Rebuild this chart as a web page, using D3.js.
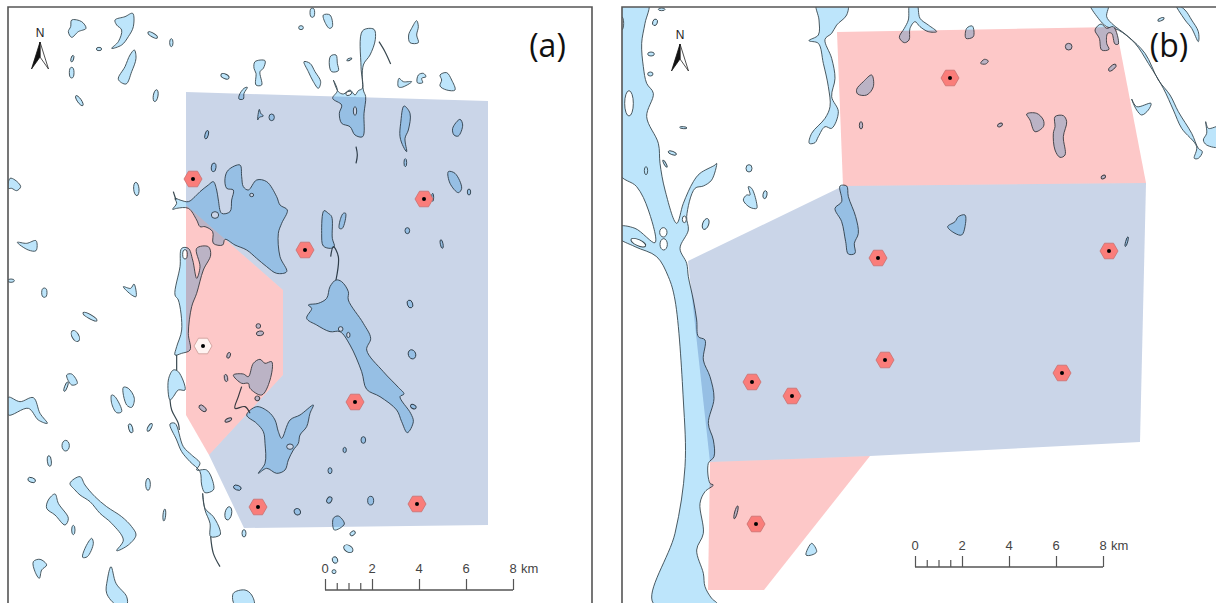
<!DOCTYPE html>
<html>
<head>
<meta charset="utf-8">
<script src="https://cdn.jsdelivr.net/npm/d3@7"></script>
<style>
  html, body { margin: 0; background: #fff; }
  svg { display: block; }
</style>
</head>
<body>
<script>
// All outlines were read off 3x crops, so each group has its own origin (see sheets below)
// lakes: flat x,y lists. blobs: cx, cy, rx, ry, angle. lines: flat x,y lists, not closed.

// panel a, top left crop
const lakesA1 = [
  [215,60,245,65,258,85,235,95,215,112,205,95,212,80],
  [345,60,375,50,398,40,400,80,385,110,365,135,335,145,355,125,365,90,350,75],
  [403,150,408,175,395,215,378,252,355,238,375,200,390,165],
  [765,185,795,182,790,205,780,215,785,255,768,255,768,220,762,205],
  [718,285,732,265,742,262,732,280,730,297,717,297],
  [773,360,778,328,782,340,790,348,778,352],
  [30,535,45,540,62,560,50,572,35,565,25,565],
  [52,727,80,730,108,722,108,752,85,750],
  [370,860,392,865,402,852,408,890,395,885],
  // big lake
  [565,605,585,590,600,575,625,555,640,545,650,570,655,600,665,640,690,635,695,600,700,570,680,565,675,535,685,510,720,495,725,530,730,560,745,570,770,540,800,545,830,590,840,615,862,630,845,670,835,700,840,770,860,815,830,820,800,800,770,775,740,750,705,735,675,718,668,735,640,730,638,695,615,680,600,680,590,660,565,625,530,625,518,628,530,610,525,595,540,600],
  // shore strip under the red zone
  [545,745,565,745,578,780,590,835,600,800,590,745,625,740,632,765,610,810,590,880,575,920,565,1000,570,1050,545,1060,525,1065,530,1040,545,990,535,900,525,885,540,800]
];
const blobsA1 = [
  [458,105,16,6,30],[297,147,8,5,0],[514,128,5,12,0],[217,176,4,10,15],[215,218,7,16,0],
  [238,302,6,18,-35],[467,287,7,18,10],[675,229,13,7,25],[815,352,8,10,0],[620,404,5,13,15],
  [641,502,7,13,5],[409,567,8,20,-5],[133,878,8,14,0],[33,842,10,5,0]
];
const islandsA1 = [[645,645,11,10,0],[755,585,6,5,0],[555,763,7,14,0]];
const linesA1 = [[520,575,528,600]];

// panel a, top right crop
const lakesA2 = [
  [70,45,90,45,97,80,88,85,72,60],
  [188,92,222,88,226,118,210,165,190,195,190,270,197,290,192,340,188,410,165,405,150,380,125,370,118,340,125,315,98,295,112,272,100,240,115,275,130,282,150,270,165,285,175,272,187,265,183,200],
  [12,185,30,190,45,215,62,245,55,265,40,245,25,215],
  [92,168,108,165,112,190,115,212,95,215,88,195],
  [350,62,355,80,350,105,355,128,330,128,326,105,335,85],
  [297,235,310,245,335,245,305,262,295,260],
  [355,225,370,220,378,230,365,235,368,248,352,248],
  [420,225,440,218,455,240,465,270,440,270,420,258,425,240],
  [312,318,330,340,325,390,315,415,320,455,310,440,300,410,302,370],
  [480,358,488,375,475,408,462,405,458,385],
  [445,515,465,520,485,565,475,578,450,550],
  [72,632,85,640,95,650,97,715,103,740,92,745,70,738,65,700],
  [130,640,137,640,127,685,118,685,122,655]
];
const blobsA2 = [
  [37,38,7,14,0],[3,83,7,6,0],[148,178,8,3,-25],[316,488,4,12,0],[507,576,5,9,0],
  [398,592,3,12,0],[322,692,7,9,0],[425,732,4,13,-10]
];
const islandsA2 = [[165,333,5,13,0],[146,280,9,6,-20]];
const linesA2 = [[237,125,255,155,272,192],[168,440,172,465,168,490],[92,770,100,740,115,770,108,840]];

// panel a, bottom left crop
const lakesA3 = [
  [740,345,770,320,805,335,825,360,835,395,845,415,870,360,900,345,940,315,930,340,920,380,900,405,895,430,880,450,865,480,855,510,830,520,800,505,775,520,795,490,795,430,790,395,770,370],
  [745,230,760,190,780,178,795,190,815,185,810,240,785,285,750,265,745,250,725,250,700,225,730,222],
  [200,225,215,222,232,250,215,255],
  [370,262,385,265,403,295,395,322,380,315],
  [335,285,345,290,365,335,350,338,335,310],
  [25,292,60,305,100,293,120,340,142,370,115,360,85,325,25,345],
  [210,550,240,530,255,555,285,590,320,620,365,650,395,680,408,705,385,735,350,752,370,720,335,670,300,640,270,605,240,585,225,570],
  [165,582,175,610,205,655,195,675,165,645,140,625,145,600],
  [275,715,280,730,262,770,248,772,255,745],
  [100,785,120,778,140,795,125,810,118,835,105,815],
  [333,800,348,850,380,890,380,915,350,915,320,880,322,840],
  [700,880,735,870,755,885,762,915,705,915],
  [505,240,520,210,535,215,555,270,535,270,520,290,510,300],
  [510,372,525,370,550,440,575,465,600,490,590,510,620,510,640,550,640,570,615,578,605,555,600,515,570,485,545,455,530,420],
  [608,580,615,625,640,650,660,690,660,705,632,710,630,670,615,630]
];
const blobsA3 = [
  [775,78,7,7,0],[780,100,11,7,-10],[686,166,5,9,20],[678,234,5,11,-10],[772,295,7,7,30],
  [608,325,13,7,40],[685,360,11,5,-25],[270,50,24,6,30],[226,108,10,18,-30],[198,260,4,15,20],
  [392,385,6,14,-15],[449,382,5,13,30],[197,437,11,16,0],[148,483,6,16,-5],[95,540,12,7,20],
  [444,553,7,18,0],[220,690,5,14,0],[493,645,4,18,5],[685,640,10,20,10],[732,700,6,11,0],
  [712,563,12,7,20],[892,635,9,10,-30]
];
const islandsA3 = [[870,440,10,8,0]];
const linesA3 = [
  [510,300,515,330,535,370,538,390],[632,710,640,760,660,800],[530,165,530,210],
  [725,260,715,290,705,325,735,320,750,340]
];

// panel a, bottom right crop
const lakesA4 = [
  [108,-60,125,-55,145,-25,145,0,190,70,212,115,200,150,250,215,295,262,312,282,300,290,332,340,340,365,322,398,305,365,290,330,240,290,200,268,185,215,150,135,120,95,90,95,50,75,20,55,35,25,25,15,55,10,80,-5,90,-40],
  [100,655,115,648,133,672,103,690]
];
const blobsA4 = [
  [330,12,8,12,-20],[336,163,11,14,-20],[340,320,9,6,25],[190,420,7,10,0],[134,450,5,8,0],
  [90,512,6,9,0],[88,600,7,10,30],[212,602,9,13,0],[158,700,9,6,-40],[145,746,15,10,30],
  [105,780,8,10,-20],[102,815,6,6,0]
];
const islandsA4 = [[122,87,7,7,0],[145,105,5,8,0]];

// panel b, top left crop. The river runs down into the crop below it, hence y > 900
const lakesB1 = [
  [10,10,100,10,90,70,80,130,85,200,95,250,115,280,95,350,130,430,135,490,150,570,185,670,205,610,235,545,255,520,300,495,305,490,290,540,265,558,240,565,215,650,220,690,195,745,215,790,220,830,235,900,245,960,250,1010,270,1020,265,1080,285,1130,297,1195,280,1270,295,1320,297,1370,280,1390,285,1450,295,1455,270,1475,255,1510,265,1600,245,1650,265,1720,270,1760,290,1795,305,1810,115,1810,180,1600,210,1400,205,1200,180,900,160,830,125,770,60,740,10,712,10,680,60,685,120,728,100,630,65,560,10,518],
  [605,10,697,10,695,45,665,75,650,100,630,118,650,175,660,235,650,290,670,335,650,385,630,380,610,410,600,428,583,430,590,400,630,355,645,320,640,260,625,190,610,130,582,122,610,105,612,60],
  [400,560,410,565,425,610,425,625,405,622,385,600,395,585,405,585],
  [675,558,695,558,700,590,722,650,730,700,718,730,720,760,700,762,692,725,680,665,660,625,680,605],
  [745,245,770,225,775,260,755,285,728,282,725,268],
  [885,10,905,10,915,55,940,75,965,95,940,95,915,80,900,65,885,85,882,120,868,128,853,112,868,85,880,60]
];
const blobsB1 = [
  [738,376,5,11,0],[120,67,7,10,20],[108,162,10,6,0],[106,222,8,6,0],[205,383,11,3,5],
  [172,459,13,5,20],[150,491,3,12,-30],[93,512,5,12,0],[402,505,9,11,0],[450,584,6,12,10],
  [272,672,9,17,20],[140,28,10,4,0]
];
const islandsB1 = [[42,310,13,38,0],[145,697,11,14,0],[146,733,11,17,0],[208,658,6,10,0],[70,728,24,9,25],[20,70,6,20,0]];

// panel b, top right crop
const lakesB2 = [
  [155,85,172,78,175,110,153,115],
  [197,190,208,178,220,183,212,192],
  [525,10,580,10,575,50,590,70,640,110,690,160,730,240,765,285,790,335,830,400,850,445,862,455,850,475,838,475,845,440,800,385,775,330,745,265,700,190,660,130,610,90,575,80,550,55],
  [540,90,558,72,575,85,595,80,610,132,600,132,590,100,578,100,575,130,582,148,560,150,553,115],
  [650,297,665,320,708,310,700,330,680,345,665,330],
  [872,365,880,385,915,380,915,440,875,435,865,420,875,400],
  [780,10,810,30,830,60,850,95,850,125,830,85,810,60],
  [335,342,365,340,385,360,385,380,360,395,345,360],
  [420,350,445,347,455,365,445,410,450,465,435,472,420,450,415,400,420,380],
  [130,650,150,645,150,680,140,705,120,700,98,680,120,665]
];
const blobsB2 = [
  [461,140,10,10,0],[592,203,14,6,-40],[255,375,8,5,-30],[565,531,7,5,-30],[738,58,10,4,-25],[635,725,3,15,15]
];

// panel b, bottom left crop
const lakesB3 = [[590,730,605,755,590,765,573,765]];
const blobsB3 = [[363,637,4,20,15]];

// zones and sites, in page pixels
const zoneBlueA = [[186,92],[488,101],[488,525],[244,528],[209,455],[283,375],[283,290],[186,205]];
const zoneRedA = [[186,205],[283,290],[283,375],[209,455],[186,415]];
const zoneBlueB = [[843,186],[1146,183],[1140,442],[870,456],[710,462],[688,261]];
const zoneRedB1 = [[837,32],[1116,27],[1146,183],[843,186]];
const zoneRedB2 = [[710,462],[870,456],[764,590],[708,590]];
const sitesA = [[193,179],[424,199],[305,250],[355,402],[258,507],[417,504]];
const openSitesA = [[203,346]];
const sitesB = [[950,78],[1109,251],[878,258],[752,382],[792,396],[885,360],[1062,373],[756,524]];

// furniture
const scaleTicks = [0, 0.5, 1, 1.5, 2, 4, 6, 8];
const scaleLabels = [0, 2, 4, 6, 8];
const scaleBarA = { x0: 325, x1: 513, y: 590 };
const scaleBarB = { x0: 915, x1: 1103, y: 567 };
const northArrows = [[40, 42], [680, 44]];

const width = 1216, height = 603;
const waterColor = "#bde5fb", shoreColor = "#38474f";

const svg = d3.select("body").append("svg").attr("width", width).attr("height", height);
const defs = svg.append("defs");
defs.append("filter").attr("id", "soft").append("feGaussianBlur").attr("stdDeviation", 0.45);
defs.append("clipPath").attr("id", "clipA").append("rect")
  .attr("x", 8).attr("y", 7).attr("width", 584).attr("height", 596);
defs.append("clipPath").attr("id", "clipB").append("rect")
  .attr("x", 622).attr("y", 7).attr("width", 594).attr("height", 596);

function sheet(x0, y0, lakes, blobs, islands, lines) {
  return {
    x: d3.scaleLinear().domain([0, 900]).range([x0, x0 + 300]),
    y: d3.scaleLinear().domain([0, 900]).range([y0, y0 + 300]),
    lakes, blobs: blobs || [], islands: islands || [], lines: lines || []
  };
}

const sheetsA = [
  sheet(0, 0, lakesA1, blobsA1, islandsA1, linesA1),
  sheet(300, 0, lakesA2, blobsA2, islandsA2, linesA2),
  sheet(0, 300, lakesA3, blobsA3, islandsA3, linesA3),
  sheet(300, 300, lakesA4, blobsA4, islandsA4, [])
];
const sheetsB = [
  sheet(615, 0, lakesB1, blobsB1, islandsB1, []),
  sheet(915, 0, lakesB2, blobsB2, [], []),
  sheet(615, 300, lakesB3, blobsB3, [], [])
];

// flat list -> [[x,y],...]
function toPoints(flat, s) {
  const pts = [];
  for (let i = 0; i < flat.length; i += 2) pts.push([s.x(flat[i]), s.y(flat[i + 1])]);
  return pts;
}

const closedLine = d3.line().curve(d3.curveLinearClosed);
const shoreLine = d3.line().curve(d3.curveCatmullRomClosed.alpha(0.5));
const openLine = d3.line().curve(d3.curveCatmullRom);

function drawBlobs(g, s, list, fill) {
  g.selectAll(null).data(list).join("ellipse")
    .attr("transform", d => `translate(${s.x(d[0])},${s.y(d[1])}) rotate(${d[4]})`)
    .attr("rx", d => s.x(d[2]) - s.x(0))
    .attr("ry", d => s.y(d[3]) - s.y(0))
    .attr("fill", fill)
    .attr("stroke", shoreColor).attr("stroke-width", 0.9);
}

function drawPanel(clipId, sheets, zones) {
  const g = svg.append("g").attr("clip-path", `url(#${clipId})`)
    .append("g").attr("filter", "url(#soft)").style("isolation", "isolate");
  g.append("rect").attr("width", width).attr("height", height).attr("fill", "#fff");

  sheets.forEach(s => {
    const sg = g.append("g");
    sg.selectAll(null).data(s.lakes).join("path")
      .attr("d", d => shoreLine(toPoints(d, s)))
      .attr("fill", waterColor)
      .attr("stroke", shoreColor).attr("stroke-width", 0.9).attr("stroke-linejoin", "round");
    drawBlobs(sg, s, s.blobs, waterColor);
    sg.selectAll(null).data(s.lines).join("path")
      .attr("d", d => openLine(toPoints(d, s)))
      .attr("fill", "none")
      .attr("stroke", shoreColor).attr("stroke-width", 1.2);
  });
  // islands go after all the water so they are not covered by a neighbouring crop
  sheets.forEach(s => drawBlobs(g.append("g"), s, s.islands, "#fff"));

  // zones are multiplied so the lakes show through darker
  g.selectAll(null).data(zones).join("path")
    .attr("d", d => closedLine(d.points))
    .attr("fill", d => d.color)
    .style("mix-blend-mode", "multiply");
  return g;
}

const zoneBlue = "#cad5e8", zoneRed = "#fdc8c8";
const panelA = drawPanel("clipA", sheetsA, [
  { points: zoneBlueA, color: zoneBlue }, { points: zoneRedA, color: zoneRed }
]);
const panelB = drawPanel("clipB", sheetsB, [
  { points: zoneBlueB, color: zoneBlue }, { points: zoneRedB1, color: zoneRed }, { points: zoneRedB2, color: zoneRed }
]);

// frames: panels run off the bottom of the picture
const frame = d3.line();
svg.append("path").attr("fill", "none").attr("stroke", "#555").attr("stroke-width", 1.6)
  .attr("d", frame([[8, 603], [8, 7], [592, 7], [592, 603]]));
svg.append("path").attr("fill", "none").attr("stroke", "#555").attr("stroke-width", 1.6)
  .attr("d", frame([[622, 603], [622, 7], [1216, 7]]));

// sites
const hexagon = d3.range(6).map(i => [9 * Math.cos(i * Math.PI / 3), 9 * Math.sin(i * Math.PI / 3)]);
function drawSites(list, fill, stroke) {
  const site = svg.append("g").attr("filter", "url(#soft)")
    .selectAll("g").data(list).join("g")
    .attr("transform", d => `translate(${d[0]},${d[1]})`);
  site.append("path").attr("d", closedLine(hexagon))
    .attr("fill", fill).attr("stroke", stroke).attr("stroke-width", 0.8);
  site.append("circle").attr("r", 2).attr("fill", "#000");
}
drawSites(sitesA, "#fa7d7a", "#c9706e");
drawSites(openSitesA, "#fff3f1", "#c99a96");
drawSites(sitesB, "#fa7d7a", "#c9706e");

// scale bars
function drawScaleBar(bar) {
  const km = d3.scaleLinear().domain([0, 8]).range([bar.x0, bar.x1]);
  const g = svg.append("g").attr("transform", `translate(0,${bar.y})`);
  const axis = d3.axisTop(km).tickValues(scaleTicks).tickSize(11).tickFormat("");
  g.call(axis);
  g.select(".domain").attr("stroke", "#555").attr("stroke-width", 1.5).attr("d", `M${bar.x0},0H${bar.x1}`);
  g.selectAll(".tick line").attr("stroke", "#555").attr("stroke-width", 1.2)
    .attr("y2", d => scaleLabels.includes(d) ? -11 : -7);
  g.selectAll(null).data(scaleLabels).join("text")
    .attr("x", d => km(d)).attr("y", -17)
    .attr("text-anchor", "middle")
    .attr("font-family", "Liberation Sans, Arial, sans-serif").attr("font-size", 13)
    .attr("fill", "#444").text(d => d);
  // the axis sets a middle anchor on the group, so ask for start here
  g.append("text").attr("x", km(8) + 8).attr("y", -17)
    .attr("text-anchor", "start")
    .attr("font-family", "Liberation Sans, Arial, sans-serif").attr("font-size", 13)
    .attr("fill", "#444").text("km");
}
drawScaleBar(scaleBarA);
drawScaleBar(scaleBarB);

// north arrows
northArrows.forEach(p => {
  const g = svg.append("g").attr("transform", `translate(${p[0]},${p[1]})`);
  g.append("path").attr("d", closedLine([[0, 0], [8.5, 27], [0, 15]]))
    .attr("fill", "#fff").attr("stroke", "#222").attr("stroke-width", 0.8);
  g.append("path").attr("d", closedLine([[0, 0], [-8.5, 27], [0, 15]]))
    .attr("fill", "#111").attr("stroke", "#111").attr("stroke-width", 0.8);
  g.append("text").attr("y", -5).attr("text-anchor", "middle")
    .attr("font-family", "Liberation Sans, Arial, sans-serif").attr("font-size", 12)
    .attr("fill", "#222").text("N");
});

// panel letters
svg.selectAll(null).data([["(a)", 547.5], ["(b)", 1169]]).join("text")
  .attr("x", d => d[1]).attr("y", 57)
  .attr("text-anchor", "middle")
  .attr("font-family", "Open Sans, sans-serif").attr("font-size", 32)
  .attr("fill", "#111").text(d => d[0]);
</script>
</body>
</html>
